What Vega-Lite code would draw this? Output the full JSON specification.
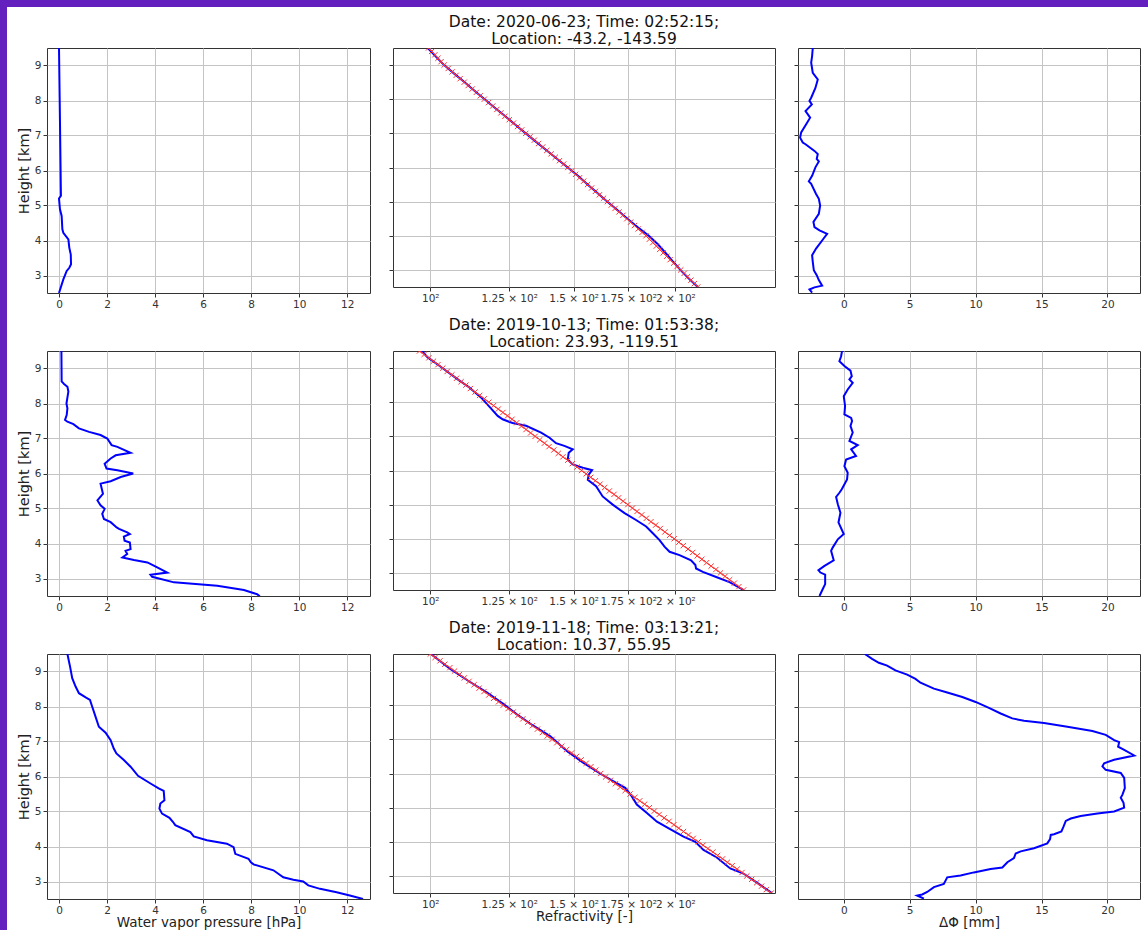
{
  "$schema": "https://vega.github.io/schema/vega-lite/v6.json",
  "background": "white",
  "padding": 0,
  "config": {
    "font": "DejaVu Sans",
    "view": {"stroke": "#333333", "strokeWidth": 1},
    "axis": {"domain": false, "grid": true, "gridColor": "#c4c4c4", "gridWidth": 1, "tickColor": "#333333", "tickSize": 4, "tickWidth": 1, "labelFontSize": 10.5, "labelColor": "#333333", "labelFont": "DejaVu Sans", "labelPadding": 2, "titleFont": "DejaVu Sans", "titleFontWeight": "normal", "titleColor": "#222222", "labelOverlap": false, "labelFlush": false},
    "axisX": {"titleFontSize": 13.5, "titlePadding": 0},
    "axisY": {"titleFontSize": 14.5, "titlePadding": 3},
    "title": {"fontSize": 15.5, "fontWeight": "normal", "font": "DejaVu Sans", "color": "#111111", "offset": 0, "dy": 3, "anchor": "middle", "lineHeight": 17}
  },
  "datasets": {
    "wv1": [{"h":9.5,"e":0.0},{"h":7.4,"e":0.04},{"h":5.28,"e":0.08},{"h":5.2,"e":0.0},{"h":4.89,"e":0.04},{"h":4.7,"e":0.11},{"h":4.32,"e":0.14},{"h":4.22,"e":0.18},{"h":4.03,"e":0.39},{"h":3.79,"e":0.43},{"h":3.6,"e":0.49},{"h":3.32,"e":0.5},{"h":3.22,"e":0.43},{"h":3.13,"e":0.32},{"h":2.89,"e":0.18},{"h":2.5,"e":0.0}],
    "wv2": [{"h":9.5,"e":0.1},{"h":8.63,"e":0.11},{"h":8.56,"e":0.21},{"h":8.48,"e":0.35},{"h":8.34,"e":0.39},{"h":8.0,"e":0.31},{"h":7.86,"e":0.35},{"h":7.67,"e":0.32},{"h":7.53,"e":0.25},{"h":7.48,"e":0.35},{"h":7.41,"e":0.6},{"h":7.29,"e":0.83},{"h":7.19,"e":1.25},{"h":7.1,"e":1.73},{"h":7.0,"e":2.01},{"h":6.81,"e":2.19},{"h":6.76,"e":2.43},{"h":6.59,"e":2.98},{"h":6.52,"e":2.36},{"h":6.43,"e":2.15},{"h":6.28,"e":1.9},{"h":6.14,"e":1.98},{"h":6.09,"e":2.43},{"h":6.0,"e":3.09},{"h":5.9,"e":2.57},{"h":5.78,"e":2.15},{"h":5.71,"e":1.73},{"h":5.42,"e":1.83},{"h":5.23,"e":1.6},{"h":5.09,"e":1.73},{"h":4.99,"e":1.9},{"h":4.85,"e":1.8},{"h":4.7,"e":1.87},{"h":4.61,"e":2.15},{"h":4.46,"e":2.4},{"h":4.42,"e":2.5},{"h":4.32,"e":2.84},{"h":4.27,"e":2.95},{"h":4.2,"e":2.7},{"h":4.08,"e":2.73},{"h":4.03,"e":2.95},{"h":3.84,"e":2.98},{"h":3.79,"e":2.77},{"h":3.7,"e":2.84},{"h":3.6,"e":2.64},{"h":3.53,"e":3.12},{"h":3.46,"e":3.68},{"h":3.32,"e":4.09},{"h":3.17,"e":4.51},{"h":3.11,"e":3.81},{"h":3.05,"e":3.88},{"h":2.89,"e":4.79},{"h":2.79,"e":6.59},{"h":2.67,"e":7.7},{"h":2.55,"e":8.25},{"h":2.49,"e":8.36}],
    "wv3": [{"h":9.5,"e":0.35},{"h":9.14,"e":0.46},{"h":8.81,"e":0.55},{"h":8.57,"e":0.69},{"h":8.38,"e":0.83},{"h":8.26,"e":1.11},{"h":8.19,"e":1.29},{"h":8.0,"e":1.38},{"h":7.71,"e":1.52},{"h":7.42,"e":1.66},{"h":7.25,"e":1.94},{"h":7.04,"e":2.15},{"h":6.8,"e":2.28},{"h":6.66,"e":2.39},{"h":6.47,"e":2.7},{"h":6.28,"e":2.98},{"h":6.02,"e":3.29},{"h":5.8,"e":3.81},{"h":5.66,"e":4.15},{"h":5.59,"e":4.36},{"h":5.32,"e":4.39},{"h":5.23,"e":4.22},{"h":5.08,"e":4.18},{"h":4.94,"e":4.29},{"h":4.82,"e":4.6},{"h":4.7,"e":4.75},{"h":4.61,"e":4.84},{"h":4.41,"e":5.47},{"h":4.29,"e":5.61},{"h":4.18,"e":6.16},{"h":4.08,"e":6.99},{"h":3.98,"e":7.27},{"h":3.79,"e":7.34},{"h":3.65,"e":7.89},{"h":3.55,"e":7.99},{"h":3.49,"e":8.1},{"h":3.32,"e":8.93},{"h":3.12,"e":9.34},{"h":3.05,"e":9.76},{"h":3.0,"e":10.17},{"h":2.89,"e":10.38},{"h":2.79,"e":10.87},{"h":2.69,"e":11.56},{"h":2.6,"e":12.11},{"h":2.5,"e":12.66}],
    "nb1": [{"h":9.5,"N":99.3},{"h":9.25,"N":101.6},{"h":9.0,"N":104.0},{"h":8.75,"N":107.0},{"h":8.5,"N":110.2},{"h":8.25,"N":113.3},{"h":8.0,"N":116.6},{"h":7.75,"N":120.0},{"h":7.5,"N":123.6},{"h":7.25,"N":127.2},{"h":7.0,"N":131.0},{"h":6.75,"N":134.9},{"h":6.5,"N":139.0},{"h":6.25,"N":143.2},{"h":6.0,"N":147.5},{"h":5.75,"N":151.9},{"h":5.5,"N":156.0},{"h":5.25,"N":160.4},{"h":5.0,"N":165.0},{"h":4.75,"N":169.8},{"h":4.5,"N":174.6},{"h":4.25,"N":179.8},{"h":4.0,"N":185.5},{"h":3.75,"N":190.3},{"h":3.5,"N":194.5},{"h":3.25,"N":198.5},{"h":3.0,"N":202.8},{"h":2.75,"N":207.7},{"h":2.5,"N":213.0}],
    "nr1": [{"h":9.5,"N":99.5},{"h":9.4,"N":100.4},{"h":9.3,"N":101.3},{"h":9.2,"N":102.2},{"h":9.1,"N":103.1},{"h":9.0,"N":104.0},{"h":8.9,"N":105.2},{"h":8.8,"N":106.4},{"h":8.7,"N":107.6},{"h":8.6,"N":108.8},{"h":8.5,"N":110.1},{"h":8.4,"N":111.3},{"h":8.3,"N":112.6},{"h":8.2,"N":113.9},{"h":8.1,"N":115.2},{"h":8.0,"N":116.5},{"h":7.9,"N":117.9},{"h":7.8,"N":119.3},{"h":7.7,"N":120.7},{"h":7.6,"N":122.1},{"h":7.5,"N":123.5},{"h":7.4,"N":125.0},{"h":7.3,"N":126.5},{"h":7.2,"N":128.0},{"h":7.1,"N":129.5},{"h":7.0,"N":131.0},{"h":6.9,"N":132.6},{"h":6.8,"N":134.2},{"h":6.7,"N":135.8},{"h":6.6,"N":137.4},{"h":6.5,"N":139.0},{"h":6.4,"N":140.7},{"h":6.3,"N":142.4},{"h":6.2,"N":144.1},{"h":6.1,"N":145.8},{"h":6.0,"N":147.5},{"h":5.9,"N":149.2},{"h":5.8,"N":150.8},{"h":5.7,"N":152.5},{"h":5.6,"N":154.3},{"h":5.5,"N":156.0},{"h":5.4,"N":157.8},{"h":5.3,"N":159.5},{"h":5.2,"N":161.3},{"h":5.1,"N":163.2},{"h":5.0,"N":165.0},{"h":4.9,"N":166.8},{"h":4.8,"N":168.6},{"h":4.7,"N":170.5},{"h":4.6,"N":172.4},{"h":4.5,"N":174.3},{"h":4.4,"N":176.2},{"h":4.3,"N":178.1},{"h":4.2,"N":180.0},{"h":4.1,"N":182.0},{"h":4.0,"N":184.0},{"h":3.9,"N":185.8},{"h":3.8,"N":187.6},{"h":3.7,"N":189.5},{"h":3.6,"N":191.3},{"h":3.5,"N":193.2},{"h":3.4,"N":195.1},{"h":3.3,"N":197.0},{"h":3.2,"N":199.0},{"h":3.1,"N":200.9},{"h":3.0,"N":203.0},{"h":2.9,"N":205.0},{"h":2.8,"N":206.9},{"h":2.7,"N":208.9},{"h":2.6,"N":211.0},{"h":2.5,"N":213.0}],
    "nb2": [{"h":9.5,"N":97.7},{"h":9.32,"N":99.2},{"h":9.03,"N":103.1},{"h":8.64,"N":108.5},{"h":8.44,"N":111.6},{"h":8.14,"N":115.4},{"h":7.88,"N":118.1},{"h":7.6,"N":121.0},{"h":7.5,"N":122.7},{"h":7.39,"N":126.2},{"h":7.31,"N":131.1},{"h":7.11,"N":136.8},{"h":6.96,"N":140.1},{"h":6.8,"N":142.7},{"h":6.72,"N":146.1},{"h":6.62,"N":149.6},{"h":6.52,"N":147.9},{"h":6.32,"N":147.5},{"h":6.18,"N":149.6},{"h":6.08,"N":153.9},{"h":6.01,"N":158.0},{"h":5.88,"N":156.5},{"h":5.73,"N":156.1},{"h":5.54,"N":159.8},{"h":5.24,"N":162.8},{"h":5.0,"N":167.5},{"h":4.75,"N":173.2},{"h":4.55,"N":178.9},{"h":4.36,"N":184.1},{"h":4.16,"N":187.6},{"h":3.96,"N":191.2},{"h":3.77,"N":193.9},{"h":3.62,"N":196.7},{"h":3.52,"N":202.3},{"h":3.37,"N":209.0},{"h":3.23,"N":211.6},{"h":3.13,"N":212.0},{"h":3.03,"N":216.1},{"h":2.88,"N":224.4},{"h":2.73,"N":233.0},{"h":2.5,"N":242.5}],
    "nr2": [{"h":9.5,"N":97.0},{"h":9.4,"N":98.3},{"h":9.3,"N":99.6},{"h":9.2,"N":100.9},{"h":9.1,"N":102.2},{"h":9.0,"N":103.6},{"h":8.9,"N":104.9},{"h":8.8,"N":106.3},{"h":8.7,"N":107.7},{"h":8.6,"N":109.1},{"h":8.5,"N":110.6},{"h":8.4,"N":112.0},{"h":8.3,"N":113.5},{"h":8.2,"N":115.0},{"h":8.1,"N":116.5},{"h":8.0,"N":118.0},{"h":7.9,"N":119.6},{"h":7.8,"N":121.2},{"h":7.7,"N":122.8},{"h":7.6,"N":124.4},{"h":7.5,"N":126.0},{"h":7.4,"N":127.7},{"h":7.3,"N":129.4},{"h":7.2,"N":131.1},{"h":7.1,"N":132.8},{"h":7.0,"N":134.5},{"h":6.9,"N":136.3},{"h":6.8,"N":138.1},{"h":6.7,"N":139.9},{"h":6.6,"N":141.8},{"h":6.5,"N":143.6},{"h":6.4,"N":145.5},{"h":6.3,"N":147.5},{"h":6.2,"N":149.4},{"h":6.1,"N":151.4},{"h":6.0,"N":153.4},{"h":5.9,"N":155.4},{"h":5.8,"N":157.4},{"h":5.7,"N":159.5},{"h":5.6,"N":161.6},{"h":5.5,"N":163.7},{"h":5.4,"N":165.9},{"h":5.3,"N":168.1},{"h":5.2,"N":170.3},{"h":5.1,"N":172.5},{"h":5.0,"N":174.8},{"h":4.9,"N":177.1},{"h":4.8,"N":179.4},{"h":4.7,"N":181.8},{"h":4.6,"N":184.2},{"h":4.5,"N":186.6},{"h":4.4,"N":189.1},{"h":4.3,"N":191.6},{"h":4.2,"N":194.1},{"h":4.1,"N":196.7},{"h":4.0,"N":199.3},{"h":3.9,"N":201.9},{"h":3.8,"N":204.5},{"h":3.7,"N":207.2},{"h":3.6,"N":210.0},{"h":3.5,"N":212.7},{"h":3.4,"N":215.5},{"h":3.3,"N":218.4},{"h":3.2,"N":221.2},{"h":3.1,"N":224.2},{"h":3.0,"N":227.1},{"h":2.9,"N":230.1},{"h":2.8,"N":233.1},{"h":2.7,"N":236.2},{"h":2.6,"N":239.3},{"h":2.5,"N":242.5}],
    "nb3": [{"h":9.5,"N":100.2},{"h":9.07,"N":105.7},{"h":8.68,"N":111.9},{"h":8.38,"N":117.3},{"h":8.04,"N":122.9},{"h":7.74,"N":127.6},{"h":7.4,"N":133.8},{"h":7.1,"N":140.3},{"h":6.66,"N":147.1},{"h":6.31,"N":154.2},{"h":6.0,"N":161.6},{"h":5.77,"N":167.9},{"h":5.58,"N":173.5},{"h":5.33,"N":176.8},{"h":5.09,"N":179.3},{"h":4.84,"N":184.5},{"h":4.59,"N":189.8},{"h":4.37,"N":197.0},{"h":4.15,"N":204.6},{"h":4.0,"N":211.5},{"h":3.76,"N":216.5},{"h":3.54,"N":224.8},{"h":3.22,"N":233.5},{"h":3.07,"N":242.4},{"h":2.87,"N":249.4},{"h":2.5,"N":262.7}],
    "nr3": [{"h":9.5,"N":100.0},{"h":9.4,"N":101.4},{"h":9.3,"N":102.8},{"h":9.2,"N":104.2},{"h":9.1,"N":105.7},{"h":9.0,"N":107.1},{"h":8.9,"N":108.6},{"h":8.8,"N":110.1},{"h":8.7,"N":111.6},{"h":8.6,"N":113.2},{"h":8.5,"N":114.8},{"h":8.4,"N":116.4},{"h":8.3,"N":118.0},{"h":8.2,"N":119.6},{"h":8.1,"N":121.3},{"h":8.0,"N":122.9},{"h":7.9,"N":124.6},{"h":7.8,"N":126.4},{"h":7.7,"N":128.1},{"h":7.6,"N":129.9},{"h":7.5,"N":131.7},{"h":7.4,"N":133.5},{"h":7.3,"N":135.4},{"h":7.2,"N":137.3},{"h":7.1,"N":139.2},{"h":7.0,"N":141.1},{"h":6.9,"N":143.0},{"h":6.8,"N":145.0},{"h":6.7,"N":147.0},{"h":6.6,"N":149.1},{"h":6.5,"N":151.2},{"h":6.4,"N":153.2},{"h":6.3,"N":155.4},{"h":6.2,"N":157.5},{"h":6.1,"N":159.7},{"h":6.0,"N":161.9},{"h":5.9,"N":164.2},{"h":5.8,"N":166.4},{"h":5.7,"N":168.8},{"h":5.6,"N":171.1},{"h":5.5,"N":173.5},{"h":5.4,"N":175.9},{"h":5.3,"N":178.3},{"h":5.2,"N":180.8},{"h":5.1,"N":183.3},{"h":5.0,"N":185.8},{"h":4.9,"N":188.4},{"h":4.8,"N":191.0},{"h":4.7,"N":193.7},{"h":4.6,"N":196.4},{"h":4.5,"N":199.1},{"h":4.4,"N":201.8},{"h":4.3,"N":204.6},{"h":4.2,"N":207.5},{"h":4.1,"N":210.3},{"h":4.0,"N":213.3},{"h":3.9,"N":216.2},{"h":3.8,"N":219.2},{"h":3.7,"N":222.3},{"h":3.6,"N":225.3},{"h":3.5,"N":228.5},{"h":3.4,"N":231.6},{"h":3.3,"N":234.8},{"h":3.2,"N":238.1},{"h":3.1,"N":241.4},{"h":3.0,"N":244.7},{"h":2.9,"N":248.1},{"h":2.8,"N":251.6},{"h":2.7,"N":255.1},{"h":2.6,"N":258.6},{"h":2.5,"N":262.2}],
    "dp1": [{"h":9.5,"d":-2.35},{"h":9.27,"d":-2.4},{"h":9.08,"d":-2.47},{"h":8.79,"d":-2.35},{"h":8.6,"d":-1.97},{"h":8.36,"d":-2.15},{"h":8.08,"d":-2.47},{"h":7.99,"d":-2.6},{"h":7.89,"d":-2.42},{"h":7.7,"d":-2.9},{"h":7.51,"d":-2.55},{"h":7.32,"d":-2.85},{"h":7.09,"d":-3.23},{"h":6.94,"d":-3.31},{"h":6.8,"d":-3.11},{"h":6.75,"d":-2.9},{"h":6.56,"d":-2.22},{"h":6.47,"d":-1.97},{"h":6.33,"d":-2.05},{"h":6.26,"d":-1.89},{"h":6.09,"d":-2.15},{"h":5.85,"d":-2.4},{"h":5.69,"d":-2.65},{"h":5.62,"d":-2.47},{"h":5.33,"d":-2.1},{"h":5.19,"d":-1.89},{"h":5.0,"d":-1.79},{"h":4.76,"d":-1.89},{"h":4.53,"d":-2.3},{"h":4.38,"d":-2.22},{"h":4.29,"d":-1.84},{"h":4.19,"d":-1.26},{"h":4.05,"d":-1.54},{"h":3.77,"d":-2.1},{"h":3.58,"d":-2.4},{"h":3.39,"d":-2.35},{"h":3.15,"d":-2.27},{"h":3.01,"d":-2.05},{"h":2.87,"d":-1.89},{"h":2.71,"d":-1.64},{"h":2.66,"d":-2.22},{"h":2.6,"d":-2.6},{"h":2.51,"d":-2.4}],
    "dp2": [{"h":9.5,"d":-0.13},{"h":9.35,"d":-0.2},{"h":9.21,"d":-0.33},{"h":9.07,"d":0.05},{"h":8.94,"d":0.51},{"h":8.78,"d":0.61},{"h":8.69,"d":0.43},{"h":8.59,"d":0.68},{"h":8.4,"d":0.3},{"h":8.21,"d":0.0},{"h":7.93,"d":0.1},{"h":7.69,"d":0.05},{"h":7.59,"d":0.56},{"h":7.5,"d":0.63},{"h":7.36,"d":0.51},{"h":7.17,"d":0.68},{"h":6.93,"d":0.43},{"h":6.81,"d":1.06},{"h":6.69,"d":0.56},{"h":6.5,"d":0.93},{"h":6.4,"d":0.18},{"h":6.21,"d":0.05},{"h":6.02,"d":0.3},{"h":5.83,"d":0.25},{"h":5.55,"d":-0.15},{"h":5.45,"d":-0.33},{"h":5.33,"d":-0.58},{"h":5.12,"d":-0.45},{"h":4.88,"d":-0.25},{"h":4.6,"d":-0.4},{"h":4.27,"d":0.0},{"h":4.12,"d":-0.45},{"h":3.89,"d":-0.83},{"h":3.79,"d":-0.96},{"h":3.52,"d":-0.76},{"h":3.36,"d":-1.46},{"h":3.24,"d":-1.92},{"h":3.17,"d":-1.77},{"h":3.11,"d":-1.41},{"h":2.84,"d":-1.41},{"h":2.7,"d":-1.59},{"h":2.5,"d":-1.84}],
    "dp3": [{"h":9.5,"d":1.6},{"h":9.36,"d":2.15},{"h":9.25,"d":2.66},{"h":9.17,"d":3.29},{"h":9.03,"d":3.92},{"h":8.91,"d":4.81},{"h":8.79,"d":5.44},{"h":8.68,"d":5.82},{"h":8.51,"d":6.84},{"h":8.4,"d":7.85},{"h":8.27,"d":8.99},{"h":8.13,"d":10.0},{"h":7.96,"d":11.01},{"h":7.8,"d":11.9},{"h":7.66,"d":12.78},{"h":7.59,"d":13.67},{"h":7.53,"d":15.19},{"h":7.42,"d":16.96},{"h":7.3,"d":18.86},{"h":7.19,"d":19.87},{"h":7.04,"d":20.51},{"h":6.98,"d":20.89},{"h":6.85,"d":20.81},{"h":6.76,"d":21.27},{"h":6.6,"d":22.03},{"h":6.48,"d":20.51},{"h":6.38,"d":19.75},{"h":6.29,"d":19.62},{"h":6.19,"d":19.87},{"h":6.1,"d":21.01},{"h":5.96,"d":21.27},{"h":5.67,"d":21.32},{"h":5.48,"d":21.14},{"h":5.39,"d":21.01},{"h":5.25,"d":21.22},{"h":5.11,"d":21.27},{"h":5.0,"d":20.51},{"h":4.94,"d":19.24},{"h":4.87,"d":17.97},{"h":4.8,"d":17.22},{"h":4.73,"d":16.84},{"h":4.56,"d":16.66},{"h":4.43,"d":16.51},{"h":4.35,"d":15.95},{"h":4.33,"d":15.7},{"h":4.21,"d":15.65},{"h":4.09,"d":15.44},{"h":3.95,"d":14.43},{"h":3.86,"d":13.42},{"h":3.8,"d":13.04},{"h":3.67,"d":12.91},{"h":3.55,"d":12.41},{"h":3.4,"d":12.03},{"h":3.36,"d":11.14},{"h":3.26,"d":9.87},{"h":3.17,"d":8.86},{"h":3.12,"d":7.85},{"h":2.93,"d":7.59},{"h":2.84,"d":6.84},{"h":2.7,"d":6.33},{"h":2.63,"d":5.95},{"h":2.6,"d":5.57},{"h":2.51,"d":6.08}]
  },
  "bounds": "flush",
  "spacing": 0,
  "hconcat": [
    {"width": 7, "height": 930, "view": {"fill": "#6420be", "stroke": null}, "data": {"values": []}, "mark": "point"},
    {
      "bounds": "flush",
      "spacing": 41,
      "vconcat": [
        {"width": 1141, "height": 7, "view": {"fill": "#6420be", "stroke": null}, "data": {"values": []}, "mark": "point"},
        {
          "columns": 4,
          "bounds": "flush",
          "align": "each",
          "spacing": {"row": 58, "column": 23},
          "concat": [
            {"width": 16.5, "height": 10, "view": {"stroke": null}, "data": {"values": []}, "mark": "point"},
            {"width": 323, "height": 245, "data": {"name": "wv1"},
             "mark": {"type": "line", "color": "#0000ff", "strokeWidth": 2, "clip": true},
             "encoding": {
               "x": {"field": "e", "type": "quantitative", "scale": {"domain": [-0.5, 12.95], "nice": false, "zero": false}, "axis": {"values": [0,2,4,6,8,10,12], "title": null}},
               "y": {"field": "h", "type": "quantitative", "scale": {"domain": [2.5, 9.5], "nice": false, "zero": false}, "axis": {"values": [3,4,5,6,7,8,9], "title": "Height [km]"}},
               "order": {"field": "h"}}},
            {"width": 382, "height": 239,
             "title": {"text": ["Date: 2020-06-23; Time: 02:52:15;", "Location: -43.2, -143.59"], "lineHeight": 17, "dy": 3},
             "encoding": {
               "x": {"field": "N", "type": "quantitative", "scale": {"type": "log", "domain": [90, 265], "nice": false}, "axis": {"values": [100,125,150,175,200], "labelExpr": "datum.value == 100 ? '10²' : datum.value == 125 ? '1.25 × 10²' : datum.value == 150 ? '1.5 × 10²' : datum.value == 175 ? '1.75 × 10²' : '2 × 10²'", "title": null}},
               "y": {"field": "h", "type": "quantitative", "scale": {"domain": [2.5, 9.5], "nice": false, "zero": false}, "axis": {"values": [3,4,5,6,7,8,9], "labels": false, "title": null}},
               "order": {"field": "h"}},
             "layer": [
               {"data": {"name": "nb1"}, "mark": {"type": "line", "color": "#0000ff", "strokeWidth": 2, "clip": true}},
               {"data": {"name": "nr1"}, "mark": {"type": "line", "color": "#ff3333", "strokeWidth": 1, "clip": true}},
               {"data": {"name": "nr1"}, "mark": {"type": "point", "shape": "M-1,-1L1,1M-1,1L1,-1", "size": 28, "color": "#ff3333", "filled": false, "strokeWidth": 1, "opacity": 1, "clip": true}}
             ]},
            {"width": 342, "height": 245, "data": {"name": "dp1"},
             "mark": {"type": "line", "color": "#0000ff", "strokeWidth": 2, "clip": true},
             "encoding": {
               "x": {"field": "d", "type": "quantitative", "scale": {"domain": [-3.47, 22.47], "nice": false, "zero": false}, "axis": {"values": [0,5,10,15,20], "title": null}},
               "y": {"field": "h", "type": "quantitative", "scale": {"domain": [2.5, 9.5], "nice": false, "zero": false}, "axis": {"values": [3,4,5,6,7,8,9], "labels": false, "title": null}},
               "order": {"field": "h"}}},

            {"width": 16.5, "height": 10, "view": {"stroke": null}, "data": {"values": []}, "mark": "point"},
            {"width": 323, "height": 245, "data": {"name": "wv2"},
             "mark": {"type": "line", "color": "#0000ff", "strokeWidth": 2, "clip": true},
             "encoding": {
               "x": {"field": "e", "type": "quantitative", "scale": {"domain": [-0.5, 12.95], "nice": false, "zero": false}, "axis": {"values": [0,2,4,6,8,10,12], "title": null}},
               "y": {"field": "h", "type": "quantitative", "scale": {"domain": [2.5, 9.5], "nice": false, "zero": false}, "axis": {"values": [3,4,5,6,7,8,9], "title": "Height [km]"}},
               "order": {"field": "h"}}},
            {"width": 382, "height": 239,
             "title": {"text": ["Date: 2019-10-13; Time: 01:53:38;", "Location: 23.93, -119.51"], "lineHeight": 17, "dy": 3},
             "encoding": {
               "x": {"field": "N", "type": "quantitative", "scale": {"type": "log", "domain": [90, 265], "nice": false}, "axis": {"values": [100,125,150,175,200], "labelExpr": "datum.value == 100 ? '10²' : datum.value == 125 ? '1.25 × 10²' : datum.value == 150 ? '1.5 × 10²' : datum.value == 175 ? '1.75 × 10²' : '2 × 10²'", "title": null}},
               "y": {"field": "h", "type": "quantitative", "scale": {"domain": [2.5, 9.5], "nice": false, "zero": false}, "axis": {"values": [3,4,5,6,7,8,9], "labels": false, "title": null}},
               "order": {"field": "h"}},
             "layer": [
               {"data": {"name": "nb2"}, "mark": {"type": "line", "color": "#0000ff", "strokeWidth": 2, "clip": true}},
               {"data": {"name": "nr2"}, "mark": {"type": "line", "color": "#ff3333", "strokeWidth": 1, "clip": true}},
               {"data": {"name": "nr2"}, "mark": {"type": "point", "shape": "M-1,-1L1,1M-1,1L1,-1", "size": 28, "color": "#ff3333", "filled": false, "strokeWidth": 1, "opacity": 1, "clip": true}}
             ]},
            {"width": 342, "height": 245, "data": {"name": "dp2"},
             "mark": {"type": "line", "color": "#0000ff", "strokeWidth": 2, "clip": true},
             "encoding": {
               "x": {"field": "d", "type": "quantitative", "scale": {"domain": [-3.47, 22.47], "nice": false, "zero": false}, "axis": {"values": [0,5,10,15,20], "title": null}},
               "y": {"field": "h", "type": "quantitative", "scale": {"domain": [2.5, 9.5], "nice": false, "zero": false}, "axis": {"values": [3,4,5,6,7,8,9], "labels": false, "title": null}},
               "order": {"field": "h"}}},

            {"width": 16.5, "height": 10, "view": {"stroke": null}, "data": {"values": []}, "mark": "point"},
            {"width": 323, "height": 245, "data": {"name": "wv3"},
             "mark": {"type": "line", "color": "#0000ff", "strokeWidth": 2, "clip": true},
             "encoding": {
               "x": {"field": "e", "type": "quantitative", "scale": {"domain": [-0.5, 12.95], "nice": false, "zero": false}, "axis": {"values": [0,2,4,6,8,10,12], "title": "Water vapor pressure [hPa]"}},
               "y": {"field": "h", "type": "quantitative", "scale": {"domain": [2.5, 9.5], "nice": false, "zero": false}, "axis": {"values": [3,4,5,6,7,8,9], "title": "Height [km]"}},
               "order": {"field": "h"}}},
            {"width": 382, "height": 239,
             "title": {"text": ["Date: 2019-11-18; Time: 03:13:21;", "Location: 10.37, 55.95"], "lineHeight": 17, "dy": 3},
             "encoding": {
               "x": {"field": "N", "type": "quantitative", "scale": {"type": "log", "domain": [90, 265], "nice": false}, "axis": {"values": [100,125,150,175,200], "labelExpr": "datum.value == 100 ? '10²' : datum.value == 125 ? '1.25 × 10²' : datum.value == 150 ? '1.5 × 10²' : datum.value == 175 ? '1.75 × 10²' : '2 × 10²'", "title": "Refractivity [-]"}},
               "y": {"field": "h", "type": "quantitative", "scale": {"domain": [2.5, 9.5], "nice": false, "zero": false}, "axis": {"values": [3,4,5,6,7,8,9], "labels": false, "title": null}},
               "order": {"field": "h"}},
             "layer": [
               {"data": {"name": "nb3"}, "mark": {"type": "line", "color": "#0000ff", "strokeWidth": 2, "clip": true}},
               {"data": {"name": "nr3"}, "mark": {"type": "line", "color": "#ff3333", "strokeWidth": 1, "clip": true}},
               {"data": {"name": "nr3"}, "mark": {"type": "point", "shape": "M-1,-1L1,1M-1,1L1,-1", "size": 28, "color": "#ff3333", "filled": false, "strokeWidth": 1, "opacity": 1, "clip": true}}
             ]},
            {"width": 342, "height": 245, "data": {"name": "dp3"},
             "mark": {"type": "line", "color": "#0000ff", "strokeWidth": 2, "clip": true},
             "encoding": {
               "x": {"field": "d", "type": "quantitative", "scale": {"domain": [-3.47, 22.47], "nice": false, "zero": false}, "axis": {"values": [0,5,10,15,20], "title": "ΔΦ [mm]"}},
               "y": {"field": "h", "type": "quantitative", "scale": {"domain": [2.5, 9.5], "nice": false, "zero": false}, "axis": {"values": [3,4,5,6,7,8,9], "labels": false, "title": null}},
               "order": {"field": "h"}}}
          ]
        }
      ]
    }
  ]
}
